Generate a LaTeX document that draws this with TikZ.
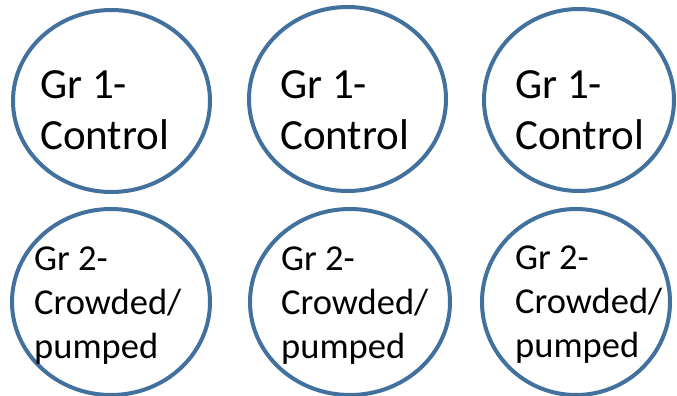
\documentclass[tikz,border=0pt]{standalone}
\usepackage{fontspec}
\setmainfont{Carlito}
\usetikzlibrary{shapes.geometric}

\definecolor{ringblue}{HTML}{41719C}

\tikzset{
	grring/.style={draw=ringblue, line width=4pt, fill=white, ellipse, inner sep=0pt},
	grtop/.style={anchor=north west, inner sep=0pt, align=left,
		font=\fontsize{43}{51}\selectfont},
	grbottom/.style={anchor=north west, inner sep=0pt, align=left,
		font=\fontsize{36.5}{44}\selectfont}
}

\begin{document}
\begin{tikzpicture}[x=1pt, y=-1pt]
	\useasboundingbox (0,0) rectangle (677,396);

	% top row: group 1
	\node[grring, minimum width=197pt, minimum height=182pt] (ctrlA) at (111.5,101) {};
	\node[grring, minimum width=197pt, minimum height=184pt] (ctrlB) at (347.5,99) {};
	\node[grring, minimum width=190pt, minimum height=182pt] (ctrlC) at (579,100) {};

	\node[grtop] (ctrlAtext) at (40,70)  {Gr 1-\\Control};
	\node[grtop] (ctrlBtext) at (280,70) {Gr 1-\\Control};
	\node[grtop] (ctrlCtext) at (515,70) {Gr 1-\\Control};

	% bottom row: group 2
	\node[grring, minimum width=198pt, minimum height=186pt] (crowdA) at (111,302) {};
	\node[grring, minimum width=200pt, minimum height=186pt] (crowdB) at (350,302) {};
	\node[grring, minimum width=188pt, minimum height=186pt] (crowdC) at (576,302) {};

	\node[grbottom] (crowdAtext) at (34,247)  {Gr 2-\\Crowded/\\pumped};
	\node[grbottom] (crowdBtext) at (281,247) {Gr 2-\\Crowded/\\pumped};
	\node[grbottom] (crowdCtext) at (515,246) {Gr 2-\\Crowded/\\pumped};
\end{tikzpicture}
\end{document}
